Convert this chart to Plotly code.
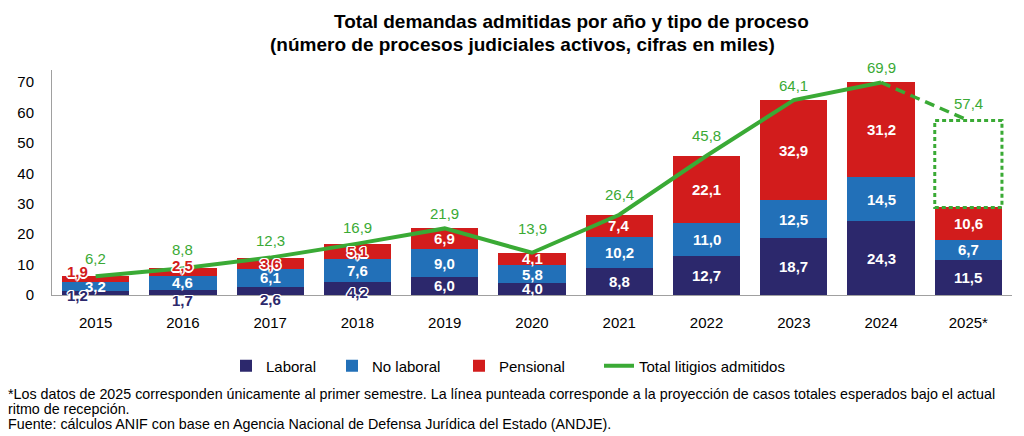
import plotly.graph_objects as go

# ---------------- data ----------------
years = ["2015", "2016", "2017", "2018", "2019", "2020", "2021", "2022", "2023", "2024", "2025*"]
laboral = [1.2, 1.7, 2.6, 4.2, 6.0, 4.0, 8.8, 12.7, 18.7, 24.3, 11.5]
no_laboral = [3.2, 4.6, 6.1, 7.6, 9.0, 5.8, 10.2, 11.0, 12.5, 14.5, 6.7]
pensional = [1.9, 2.5, 3.6, 5.1, 6.9, 4.1, 7.4, 22.1, 32.9, 31.2, 10.6]
total_litigios = [6.2, 8.8, 12.3, 16.9, 21.9, 13.9, 26.4, 45.8, 64.1, 69.9]  # 2015-2024
proyeccion_2025 = 57.4
y_ticks = [0, 10, 20, 30, 40, 50, 60, 70]

# ---------------- style ----------------
NAVY = "#2c286c"
BLUE = "#2270b8"
RED = "#d21c1c"
GREEN = "#3aaa35"
FONT = "Liberation Sans, Arial, sans-serif"
BAR_W = 0.77
HALO = "1px 1px 0 #fff, -1px -1px 0 #fff, 1px -1px 0 #fff, -1px 1px 0 #fff, 0 1.5px 0 #fff, 0 -1.5px 0 #fff, 1.5px 0 0 #fff, -1.5px 0 0 #fff"
n_halo = 4  # early years whose small segment labels are drawn with a halo

def fmt(v):
    return f"{v:.1f}".replace(".", ",")

idx = list(range(len(years)))

fig = go.Figure()
for name, vals, col, lg in [("Laboral", laboral, NAVY, "legend"), ("No laboral", no_laboral, BLUE, "legend2"),
                            ("Pensional", pensional, RED, "legend3")]:
    fig.add_trace(go.Bar(x=years, y=vals, name=name, marker=dict(color=col, line=dict(width=0)),
                         width=BAR_W, hoverinfo="skip", legend=lg))

fig.add_trace(go.Scatter(x=years[:len(total_litigios)], y=total_litigios, mode="lines",
                         name="Total litigios admitidos", line=dict(color=GREEN, width=4), legend="legend4"))
fig.add_trace(go.Scatter(x=[years[len(total_litigios) - 1], years[-1]],
                         y=[total_litigios[-1], proyeccion_2025], mode="lines", showlegend=False,
                         line=dict(color=GREEN, width=3.5, dash="10px,6px")))

annotations = []
# segment labels
label_shift = {  # (series index, year index): (xshift, yshift)
    (0, 0): (-18, -2), (1, 0): (0, 0), (2, 0): (-18, 7),
    (0, 1): (0, -8), (2, 1): (0, 7),
    (0, 2): (0, -8),
    (0, 3): (0, -4),
}
for i in idx:
    base = 0
    for s, (vals, col) in enumerate([(laboral, NAVY), (no_laboral, BLUE), (pensional, RED)]):
        v = vals[i]
        center = base + v / 2
        base += v
        halo = i < n_halo and s != 1
        xs, ys = label_shift.get((s, i), (0, 0))
        annotations.append(dict(
            x=i, y=center, text=fmt(v), showarrow=False, xshift=xs, yshift=ys,
            font=dict(family=FONT, size=15, color=col if halo else "white", weight="bold",
                      shadow=HALO if halo else "none")))

# total labels
tot_shift = [18, 19, 17, 16, 15, 24, 20, 20, 15, 15]
for i, v in enumerate(total_litigios):
    annotations.append(dict(x=i, y=v, text=fmt(v), showarrow=False, yshift=tot_shift[i],
                            font=dict(family=FONT, size=15, color=GREEN)))
annotations.append(dict(x=idx[-1], y=proyeccion_2025, text=fmt(proyeccion_2025), showarrow=False,
                        yshift=17, font=dict(family=FONT, size=15, color=GREEN)))

# titles
annotations.append(dict(xref="paper", yref="paper", x=(571 - 52) / 960, y=1 + (70 - 22) / 225,
                        text="<b>Total demandas admitidas por año y tipo de proceso</b>", showarrow=False,
                        xanchor="center", yanchor="middle", font=dict(family=FONT, size=19, color="black")))
annotations.append(dict(xref="paper", yref="paper", x=(522 - 52) / 960, y=1 + (70 - 45) / 225,
                        text="<b>(número de procesos judiciales activos, cifras en miles)</b>", showarrow=False,
                        xanchor="center", yanchor="middle", font=dict(family=FONT, size=19, color="black")))
# footnotes
foot = ["*Los datos de 2025 corresponden únicamente al primer semestre. La línea punteada corresponde a la proyección de casos totales esperados bajo el actual",
        "ritmo de recepción.",
        "Fuente: cálculos ANIF con base en Agencia Nacional de Defensa Jurídica del Estado (ANDJE)."]
for k, t in enumerate(foot):
    annotations.append(dict(xref="paper", yref="paper", x=(6 - 52) / 960, y=(295 - (394 + 15 * k)) / 225,
                            text=t, showarrow=False, xanchor="left", yanchor="middle",
                            font=dict(family=FONT, size=14.3, color="black")))

total_2025 = laboral[-1] + no_laboral[-1] + pensional[-1]
fig.add_shape(type="rect", xref="x", yref="y", x0=idx[-1] - BAR_W / 2, x1=idx[-1] + BAR_W / 2,
              y0=total_2025, y1=proyeccion_2025, line=dict(color=GREEN, width=3, dash="4px,3px"))

def leg(px):
    return dict(orientation="h", x=(px - 52) / 960, xanchor="left", y=(295 - 366) / 225, yanchor="middle",
                font=dict(family=FONT, size=15, color="black"), itemwidth=30, bgcolor="rgba(0,0,0,0)")

fig.update_layout(
    width=1024, height=436, margin=dict(l=52, r=12, t=70, b=141),
    paper_bgcolor="white", plot_bgcolor="white", barmode="stack",
    font=dict(family=FONT, size=14, color="black"),
    showlegend=True,
    legend=leg(226), legend2=leg(332), legend3=leg(459), legend4=leg(599),
    annotations=annotations,
    xaxis=dict(type="category", range=[-0.5, len(years) - 0.5], showline=True, linecolor="#a0a0a0", linewidth=1,
               ticks="", showgrid=False, tickfont=dict(size=15, color="black"), ticklabelstandoff=14),
    yaxis=dict(range=[0, 74], tickvals=y_ticks, showline=True, linecolor="#a0a0a0", linewidth=1, ticks="",
               showgrid=False, zeroline=False, tickfont=dict(size=15, color="black"), ticklabelstandoff=14),
)

fig.write_html("out.html", config={"displayModeBar": False},
               post_script="document.body.style.margin='0px';")
